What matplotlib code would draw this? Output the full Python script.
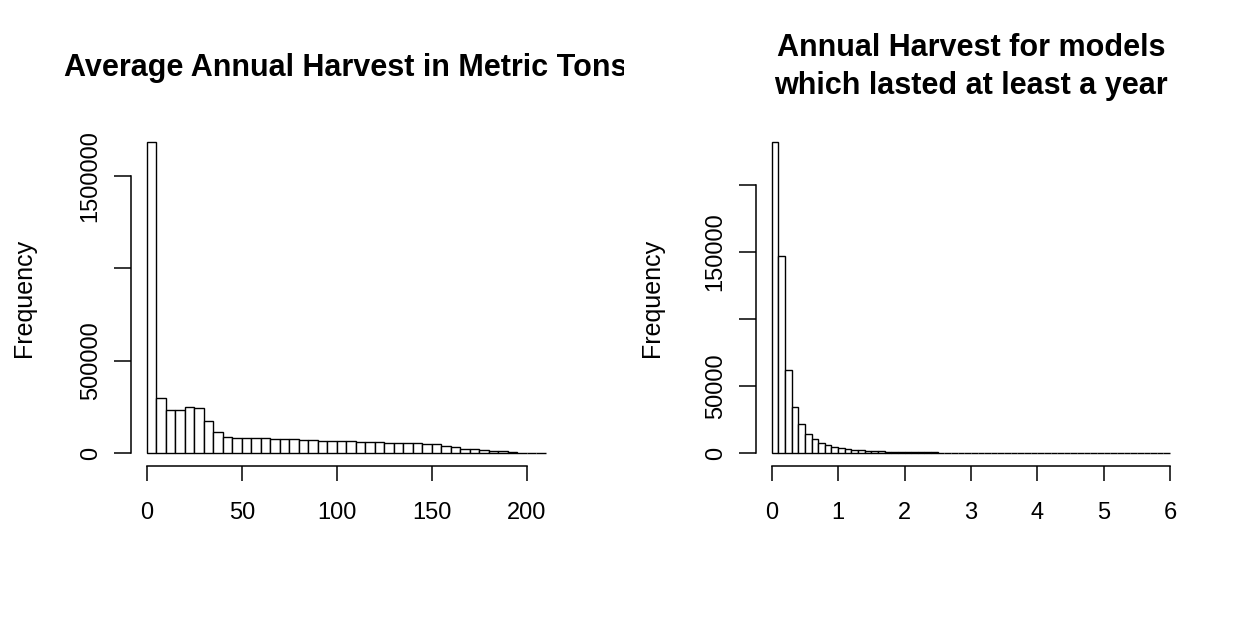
import numpy as np
import matplotlib
matplotlib.use("Agg")
import matplotlib.pyplot as plt
from matplotlib.transforms import Bbox, TransformedBbox

plt.rcParams['font.family'] = ['Liberation Sans', 'DejaVu Sans']

# ---- data: left histogram (bin width 5, 0..210) ----
left_edges = np.arange(0, 215, 5)
left_counts = [1683000, 300600, 235800, 235800, 252000, 246600, 176400, 113400,
               90000, 81000, 82800, 84600, 81000, 79200, 75600, 75600, 72000,
               72000, 68400, 66600, 66600, 64800, 63000, 61200, 59400, 57600,
               57600, 55800, 54000, 52200, 50400, 41400, 32400, 25200, 21600,
               18000, 14400, 10800, 7200, 3600, 1800, 900]
left_yticks = [0, 500000, 1000000, 1500000]
left_ylabels = ["0", "500000", "", "1500000"]
left_xticks = [0, 50, 100, 150, 200]
left_title = "Average Annual Harvest in Metric Tons"

# ---- data: right histogram (bin width 0.1, 0..6) ----
right_edges = np.round(np.arange(0, 6.05, 0.1), 2)
right_counts = [231900, 146800, 62000, 34700, 21800, 14600, 10400, 7900, 6400,
                5000, 4000, 3500, 2700, 2500, 2000, 1700, 1500, 1300, 1150, 1050,
                950, 880, 800, 740, 680, 620, 570, 520, 470, 430,
                390, 350, 320, 290, 260, 230, 200, 170, 140, 110,
                90, 70, 60, 50, 45, 40, 35, 30, 25, 20,
                18, 15, 12, 10, 8, 6, 5, 4, 3, 2]
right_yticks = [0, 50000, 100000, 150000, 200000]
right_ylabels = ["0", "50000", "", "150000", ""]
right_xticks = [0, 1, 2, 3, 4, 5, 6]
right_title = "Annual Harvest for models\nwhich lasted at least a year"

W, H = 1248, 619
fig = plt.figure(figsize=(W / 100, H / 100), dpi=100)
fig.patch.set_facecolor('white')


def px_axes(x0, x1, y0, y1):
    return fig.add_axes([x0 / W, 1 - y1 / H, (x1 - x0) / W, (y1 - y0) / H])


def r_hist(ax, edges, counts, yticks, ylabels, xticks):
    ax.hist(edges[:-1], bins=edges, weights=counts, histtype='bar',
            facecolor='white', edgecolor='black', linewidth=1.0)
    lo, hi = edges[0], edges[-1]
    rng = hi - lo
    ax.set_xlim(lo - 0.04 * rng, hi + 0.04 * rng)
    m = max(counts)
    ax.set_ylim(-0.04 * m, 1.04 * m)
    for s in ['top', 'right']:
        ax.spines[s].set_visible(False)
    ax.spines['left'].set_bounds(yticks[0], yticks[-1])
    ax.spines['bottom'].set_bounds(xticks[0], xticks[-1])
    for s in ['left', 'bottom']:
        ax.spines[s].set_linewidth(1.1)
    ax.set_yticks(yticks)
    ax.set_yticklabels(ylabels, rotation=90, va='center')
    ax.set_xticks(xticks)
    ax.set_xticklabels([str(t) for t in xticks])
    ax.tick_params(axis='y', length=12, width=1.1, pad=9, labelsize=17)
    ax.tick_params(axis='x', length=11, width=1.1, pad=15, labelsize=17)
    ax.set_ylabel("Frequency", fontsize=18)


ax1 = px_axes(130.8, 561.7, 129.3, 465.8)
r_hist(ax1, left_edges, left_counts, left_yticks, left_ylabels, left_xticks)
ax1.yaxis.set_label_coords((36 - 130.8) / 430.9, 0.5)

ax2 = px_axes(755.8, 1186.0, 129.3, 465.8)
r_hist(ax2, right_edges, right_counts, right_yticks, right_ylabels, right_xticks)
ax2.yaxis.set_label_coords((664 - 755.8) / 430.2, 0.5)

t1 = fig.text(346 / W, 1 - 68 / H, left_title, ha='center', va='center',
              fontsize=22, fontweight='bold')
t1.set_clip_box(TransformedBbox(Bbox([[0, 0], [0.5, 1]]), fig.transFigure))
t1.set_clip_on(True)

t2 = fig.text(971 / W, 1 - 67 / H, right_title, ha='center', va='center',
              fontsize=22, fontweight='bold', linespacing=1.35)

fig.savefig("out.png", dpi=100)
